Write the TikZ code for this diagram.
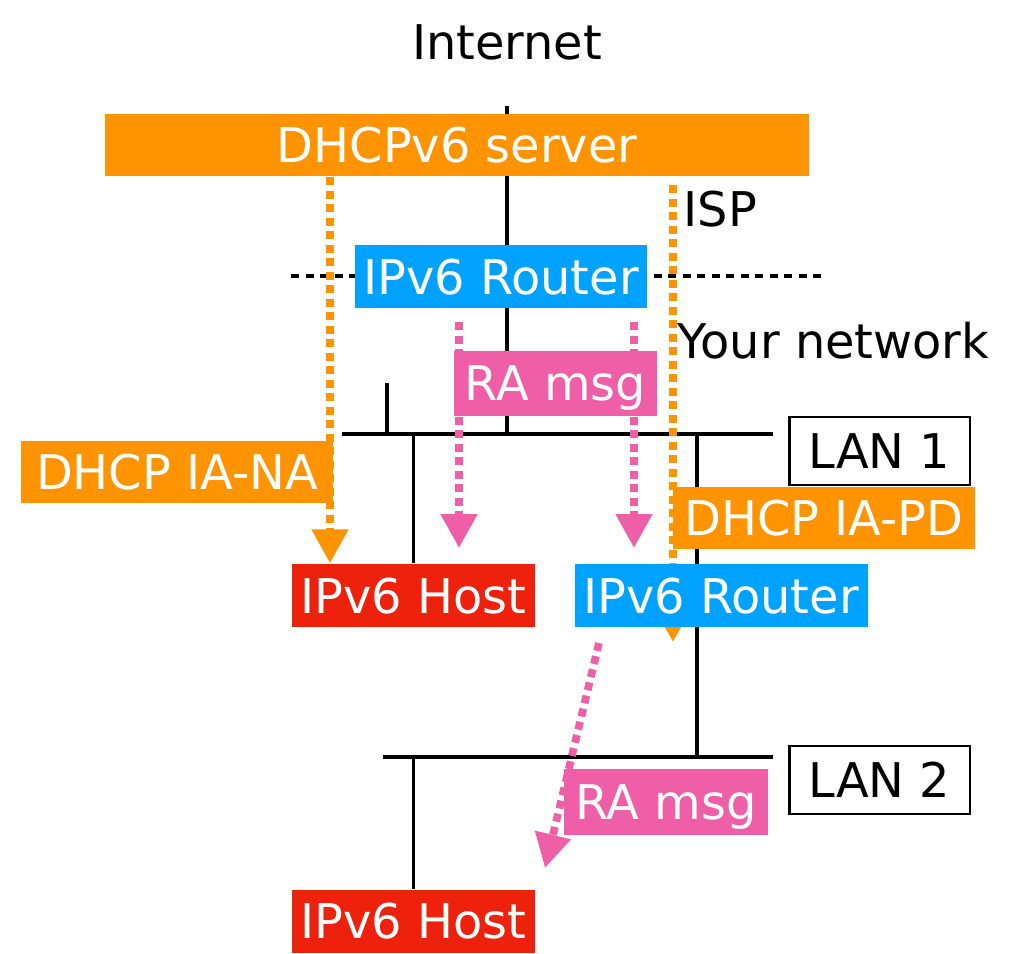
\documentclass[tikz,border=0pt]{standalone}
\usepackage{fontspec}
\setmainfont{DejaVu Sans}
\usetikzlibrary{positioning,arrows.meta}
\pgfdeclarelayer{background}
\pgfsetlayers{background,main}
\definecolor{dhcporange}{HTML}{FF9300}
\definecolor{routerblue}{HTML}{00A2FF}
\definecolor{rapink}{HTML}{EF5FA7}
\definecolor{hostred}{HTML}{EE220C}
\newcommand{\Router}{IPv6 Router}
\newcommand{\Host}{IPv6 Host}
\newcommand{\RAmsg}{RA msg}
\tikzstyle{txt} = [inner sep=0pt, font=\fontsize{13.6}{16}\selectfont]
\tikzstyle{box} = [txt, text=white, text height=0.35cm, text depth=0pt, minimum height=0.63cm]
\tikzstyle{dhcp} = [box, fill=dhcporange, minimum height=0.62cm]
\tikzstyle{router} = [box, fill=routerblue, minimum width=2.93cm]
\tikzstyle{host} = [box, fill=hostred, minimum width=2.43cm]
\tikzstyle{ramsg} = [box, fill=rapink, minimum width=2.03cm, minimum height=0.65cm]
\tikzstyle{lan} = [box, text=black, fill=white, draw=black, line width=0.6pt, minimum width=1.8cm, minimum height=0.68cm]
\tikzstyle{wire} = [line width=1.1pt]
\tikzstyle{bus} = [line width=1.3pt]
\tikzstyle{msg} = [line width=2.2pt, dash pattern=on 0.08cm off 0.055cm, -{Triangle[width=0.35cm,length=0.34cm]}]

\begin{document}
\begin{tikzpicture}[x=0.01cm, y=-0.01cm]
\useasboundingbox (0,0) rectangle (1015,953);

% Define nodes
\node[txt]                                   (inet)   at (507,42)    {Internet};
\node[dhcp, minimum width=7.04cm]            (server) at (457,145)   {DHCPv6 server};
\node[router, minimum width=2.92cm]          (rtop)   at (501,276.5) {\Router};
\node[txt, anchor=west]                      (isp)    at (683,209)   {ISP};
\node[txt, anchor=west]                      (yours)  at (677,341)   {Your network};
\node[ramsg]                                 (ratop)  at (555.5,383) {\RAmsg};

\node[dhcp, minimum width=3.12cm]            (iana)   at (177,472)   {DHCP IA-NA};
\node[lan]                                   (lanA)   at (879.5,451) {LAN 1};
\node[dhcp, minimum width=3.02cm]            (iapd)   at (824,518)   {DHCP IA-PD};

\node[host]                                  (hostA)  at (413.5,595.5) {\Host};
\node[router, right = 0.38cm of hostA]       (rlow)   {\Router};

\node[lan, below = 2.59cm of lanA]           (lanB)   {LAN 2};
\node[ramsg, minimum height=0.66cm]          (ralow)  at (666,802)   {\RAmsg};
\node[host, below = 2.61cm of hostA]         (hostB)  {\Host};

% Bus ends and taps
\coordinate (up)   at (507,106);
\coordinate (l1a)  at (342,434);
\coordinate (l1b)  at (773,434);
\coordinate (l2a)  at (383,757);
\coordinate (l2b)  at (773,757);
\coordinate (tick) at (387,383);
\coordinate (l1r)  at (697,434);
\coordinate (bdl)  at (291,276);
\coordinate (bdr)  at (825,276);
\coordinate (na)   at (330,177);
\coordinate (pd)   at (673,185);
\coordinate (pdend) at (673,642);
\coordinate (raa)  at (459,322);
\coordinate (rab)  at (634,322);
\coordinate (rac)  at (599,643);
\coordinate (racend) at (545,868);

% Edges
\begin{pgfonlayer}{background}
\draw[line width=1.2pt, dash pattern=on 0.08cm off 0.065cm] (bdl) -- (bdr);
\draw[wire] (up) -- (up |- l1a);
\draw[wire] (tick) -- (tick |- l1a);
\draw[bus]  (l1a) -- (l1b);
\draw[bus]  (l2a) -- (l2b);
\draw[wire] (hostA.north) -- (hostA.north |- l1a);
\draw[wire] (l1r) -- (l1r |- l2a);
\draw[wire] (hostB.north) -- (hostB.north |- l2a);

\draw[msg, dhcporange] (na) -- (na |- hostA.north);
\draw[msg, dhcporange] (pd) -- (pdend);
\draw[msg, rapink] (raa) -- (raa |- 0,548);
\draw[msg, rapink] (rab) -- (rab |- 0,548);
\draw[msg, rapink] (rac) -- (racend);
\end{pgfonlayer}
\end{tikzpicture}
\end{document}
